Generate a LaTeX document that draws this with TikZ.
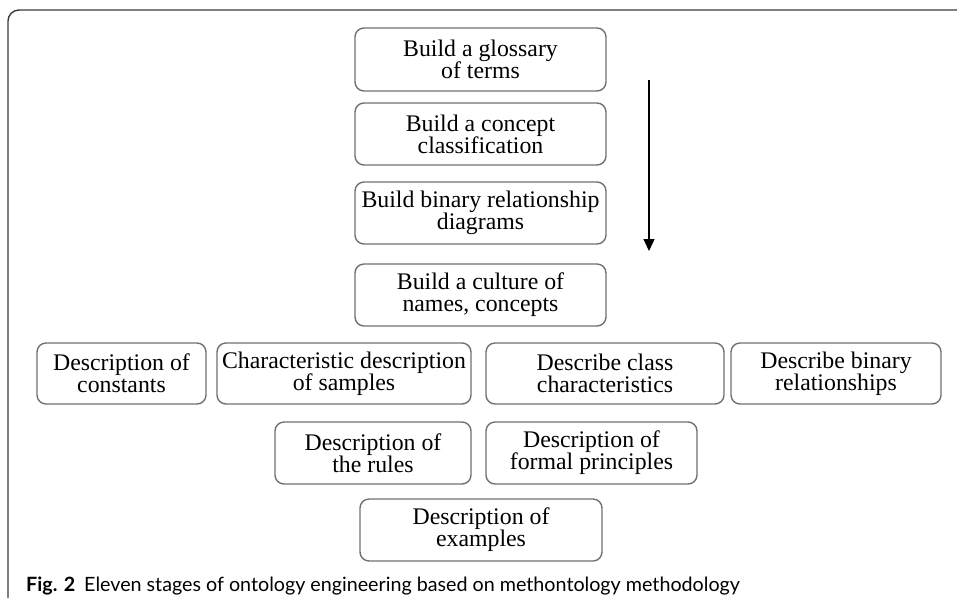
\documentclass[tikz,border=0pt]{standalone}
\usepackage{fontspec}
\setmainfont{Liberation Serif}
\newfontfamily\capfont{Lato}
\usepackage{tikz}
\usetikzlibrary{arrows.meta}
\definecolor{boxgray}{HTML}{707070}
\definecolor{framegray}{HTML}{3A3A3A}

\begin{document}
\begin{tikzpicture}
  [x=1pt,y=-1pt,auto=left]
      \tikzstyle{stage_style} = [draw=boxgray, line width=1.4, rounded corners=9, align=center, inner sep=0, font=\fontsize{23.8}{22}\selectfont]
      \tikzstyle{flow_style} = [draw=black, line width=1.3, -{Triangle[length=12,width=11]}]
  \useasboundingbox (0,0) rectangle (957,598);
  \draw[framegray, line width=1.4, rounded corners=11] (8,598) -- (8,10) -- (957,10);

  \node[stage_style, minimum width=251, minimum height=63] (n1) at (480.5,59.5) {Build a glossary\\of terms};
  \node[stage_style, minimum width=251, minimum height=62] (n2) at (480.5,134) {Build a concept\\classification};
  \node[stage_style, minimum width=251, minimum height=62] (n3) at (480.5,213) {Build binary relationship\\diagrams};
  \node[stage_style, minimum width=251, minimum height=62] (n4) at (480.5,295) {Build a culture of\\names, concepts};
  \node[stage_style, minimum width=169, minimum height=61] (n5) at (121.5,373.5) {Description of\\constants};
  \node[stage_style, minimum width=254, minimum height=61] (n6) at (344,373.5) {Characteristic description\\of samples};
  \node[stage_style, minimum width=238, minimum height=61] (n7) at (605,373.5) {Describe class\\characteristics};
  \node[stage_style, minimum width=210, minimum height=61] (n8) at (836,373.5) {Describe binary\\relationships};
  \node[stage_style, minimum width=196, minimum height=62] (n9) at (373,453) {Description of\\the rules};
  \node[stage_style, minimum width=211, minimum height=62] (n10) at (591.5,453) {Description of\\formal principles};
  \node[stage_style, minimum width=242, minimum height=62] (n11) at (481,530) {Description of\\examples};

  \coordinate (a0) at (649,80);
  \coordinate (a1) at (649,251);
  \draw[flow_style] (a0) -- (a1);

  \node[anchor=base west, inner sep=0, font=\capfont\fontsize{19.7}{22}\selectfont] (cap) at (26,591) {\textbf{Fig. 2}\hspace{9pt}Eleven stages of ontology engineering based on methontology methodology};
\end{tikzpicture}
\end{document}
